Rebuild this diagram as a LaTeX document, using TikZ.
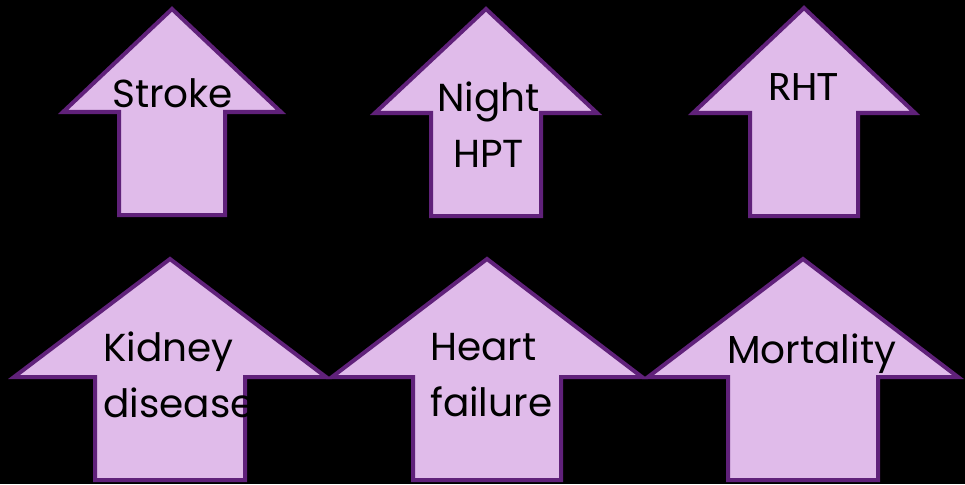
\documentclass[tikz,border=0pt]{standalone}
\usepackage{fontspec}
\setmainfont{Poppins}
\newfontfamily\calfont{Carlito}
\definecolor{arrowfill}{RGB}{224,187,234}
\definecolor{arrowline}{RGB}{96,33,122}
% up-pointing block arrow: centre x, tip y, head base y, bottom y, head half-width, shaft half-width
\newcommand\blockuparrow[6]{%
  \draw[arrowbody] (#1,#2) -- (#1+#5,#3) -- (#1+#6,#3) -- (#1+#6,#4)
    -- (#1-#6,#4) -- (#1-#6,#3) -- (#1-#5,#3) -- cycle;}
\tikzset{
  arrowbody/.style={fill=arrowfill, draw=arrowline, line width=4pt, line join=miter},
  label/.style={inner sep=0pt, text=black, font=\fontsize{39}{56}\selectfont, anchor=base west},
}
\begin{document}
\begin{tikzpicture}[x=1pt, y=-1pt]
  \fill[black] (0,0) rectangle (965,484);
  \useasboundingbox (0,0) rectangle (965,484);
  % top row
  \blockuparrow{172}{9}{112}{215}{109}{53}
  \blockuparrow{486}{9}{113}{216}{111}{55}
  \blockuparrow{804}{8}{113}{216}{111}{54}
  % bottom row
  \blockuparrow{170}{259}{377}{480}{156}{75}
  \blockuparrow{487}{259}{377}{480}{155}{74}
  \blockuparrow{803}{259}{377}{480}{155}{75}
  % labels (multi-line nodes are placed by the baseline of their last line)
  \node[label] (stroke) at (112,107) {Stroke};
  \node[label, align=center] (night) at (437,167) {Night\\HPT};
  \node[label, font=\calfont\fontsize{42}{56}\selectfont] (rht) at (768,100) {RHT};
  \node[label, align=left] (kidney) at (103,417) {Kidney\\disease};
  \node[label, align=left] (heart) at (430,416) {Heart\\failure};
  \node[label] (mortality) at (727,363) {Mortality};
\end{tikzpicture}
\end{document}
